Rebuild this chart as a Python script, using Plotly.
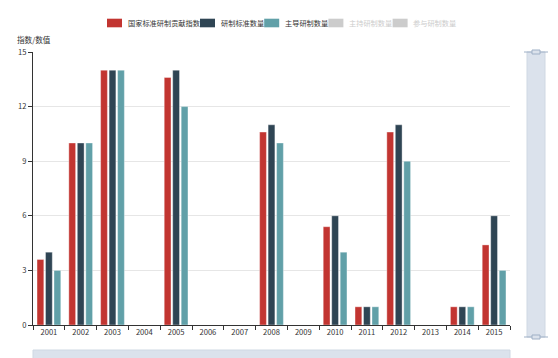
import plotly.graph_objects as go

years = ["2001", "2002", "2003", "2004", "2005", "2006", "2007", "2008",
         "2009", "2010", "2011", "2012", "2013", "2014", "2015"]
contrib_index = [3.6, 10, 14, None, 13.6, None, None, 10.6, None, 5.4, 1, 10.6, None, 1, 4.4]
std_count = [4, 10, 14, None, 14, None, None, 11, None, 6, 1, 11, None, 1, 6]
lead_count = [3, 10, 14, None, 12, None, None, 10, None, 4, 1, 9, None, 1, 3]
host_count = [None] * 15
part_count = [None] * 15

series = [
    ("国家标准研制贡献指数", contrib_index, "#c23531", True),
    ("研制标准数量", std_count, "#2f4554", True),
    ("主导研制数量", lead_count, "#61a0a8", True),
    ("主持研制数量", host_count, "#cccccc", False),
    ("参与研制数量", part_count, "#cccccc", False),
]

fig = go.Figure()
for name, vals, color, vis in series:
    fig.add_trace(go.Bar(
        x=years, y=vals, name=name, visible=True if vis else "legendonly",
        showlegend=False,
        marker=dict(color=color, line=dict(color="rgba(255,255,255,0.6)", width=0.6)),
    ))

font = "Noto Sans CJK SC, Microsoft YaHei, sans-serif"
PW, PH, PL, PT = 477.0, 273.0, 33.0, 52.0  # plot area in page pixels


def px_x(x):
    return (x - PL) / PW


def px_y(y):
    return (PT + PH - y) / PH


annotations = [dict(text="指数/数值", xref="paper", yref="paper", x=px_x(15), y=px_y(40),
                    xanchor="left", yanchor="middle", showarrow=False,
                    font=dict(size=7.6, color="#333"))]
shapes = []

# custom legend (ECharts style)
lx, ly, fs = 107.0, 23.0, 7.2
for name, vals, color, vis in series:
    shapes.append(dict(type="rect", xref="paper", yref="paper",
                       x0=px_x(lx), x1=px_x(lx + 15), y0=px_y(ly + 4.3), y1=px_y(ly - 4.3),
                       fillcolor=color, line=dict(width=0)))
    annotations.append(dict(text=name, xref="paper", yref="paper", x=px_x(lx + 18.5),
                            y=px_y(ly), xanchor="left", yanchor="middle", showarrow=False,
                            font=dict(size=fs, color="#333" if vis else "#cccccc")))
    lx = lx + 18.5 + len(name) * fs + 2.5

# dataZoom sliders (decorative)
shapes.append(dict(type="rect", xref="paper", yref="paper", x0=px_x(527), x1=px_x(545),
                   y0=px_y(337), y1=px_y(52), fillcolor="#dbe2ec",
                   line=dict(color="#cfd8e3", width=1)))
for yy in [52, 337]:
    shapes.append(dict(type="line", xref="paper", yref="paper", x0=px_x(524), x1=px_x(548),
                       y0=px_y(yy), y1=px_y(yy), line=dict(color="#9fb0c6", width=1)))
    shapes.append(dict(type="rect", xref="paper", yref="paper", x0=px_x(532), x1=px_x(540),
                       y0=px_y(yy + 2), y1=px_y(yy - 2), fillcolor="#dbe2ec",
                       line=dict(color="#9fb0c6", width=1)))
shapes.append(dict(type="rect", xref="paper", yref="paper", x0=px_x(33), x1=px_x(510),
                   y0=px_y(362), y1=px_y(350), fillcolor="#dbe2ec",
                   line=dict(color="#cfd8e3", width=1)))

fig.update_layout(
    width=558, height=358,
    margin=dict(l=25, r=56, t=44, b=41, autoexpand=False),
    paper_bgcolor="white", plot_bgcolor="white",
    barmode="group", bargap=0.2, bargroupgap=0.2,
    font=dict(family=font, size=8, color="#333"),
    showlegend=False,
    xaxis=dict(type="category", tickson="boundaries", ticks="outside", ticklen=4,
               tickcolor="#333", showline=True, linecolor="#333", linewidth=1,
               showgrid=False, tickfont=dict(size=7.6, color="#333"),
               range=[-0.5, 14.5], fixedrange=True),
    yaxis=dict(range=[0, 15], tickvals=[0, 3, 6, 9, 12, 15], ticks="outside", ticklen=4,
               tickcolor="#333", showline=True, linecolor="#333", linewidth=1,
               showgrid=True, gridcolor="#e6e6e6", zeroline=False,
               tickfont=dict(size=7.6, color="#333")),
    annotations=annotations,
    shapes=shapes,
)

fig.write_html("out.html")
